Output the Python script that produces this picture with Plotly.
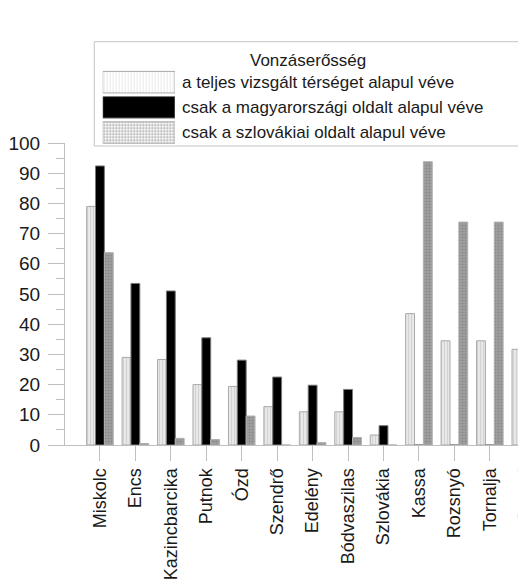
import plotly.graph_objects as go

# Adatok
telepulesek = ["Miskolc", "Encs", "Kazincbarcika", "Putnok", "Ózd", "Szendrő", "Edelény",
               "Bódvaszilas", "Szlovákia", "Kassa", "Rozsnyó", "Tornalja", "Szepsi"]
teljes = [79, 29, 28.3, 20, 19.4, 12.7, 11, 11, 3.3, 43.5, 34.5, 34.5, 31.7]
magyar = [92.4, 53.5, 51, 35.5, 28.1, 22.5, 19.8, 18.4, 6.4, 0, 0, 0, 0]
szlovak = [63.7, 0.5, 2.2, 1.8, 9.6, 0, 0.8, 2.5, 0, 93.8, 73.8, 73.8, None]
sorozat_nevek = ["a teljes vizsgált térséget alapul véve",
                 "csak a magyarországi oldalt alapul véve",
                 "csak a szlovákiai oldalt alapul véve"]
jelmagyarazat_cim = "Vonzáserősség"
y_ertekek = list(range(0, 101, 10))

FONT = "Liberation Sans, Arial, sans-serif"
AXIS = "#bfbfbf"

# kinézet sorozatonként: szín, minta
stilus = [
    dict(color="#e6e6e6", pattern=dict(shape="|", fgcolor="#cfcfcf", bgcolor="#e8e8e8", size=3, solidity=0.3),
         line=dict(color="#a9a9a9", width=1)),
    dict(color="#000000", line=dict(color="#7a7a7a", width=1)),
    dict(color="#9c9c9c", pattern=dict(shape=".", fgcolor="#888888", bgcolor="#a0a0a0", size=3, solidity=0.4),
         line=dict(color="#b0b0b0", width=1)),
]

fig = go.Figure()
for nev, ertek, st in zip(sorozat_nevek, [teljes, magyar, szlovak], stilus):
    fig.add_trace(go.Bar(x=list(range(len(telepulesek))), y=ertek, name=nev, marker=st, showlegend=False))

# jelmagyarázat mintái egy külön, rejtett tengelypáron
fig.add_trace(go.Bar(
    x=[1, 1, 1], y=[0, 1, 2], orientation="h", width=0.855, xaxis="x2", yaxis="y2", showlegend=False,
    hoverinfo="skip",
    marker=dict(
        color=["#e6e6e6", "#000000", "#9c9c9c"],
        pattern=dict(shape=["|", "", "."], fgcolor=["#cfcfcf", "#000000", "#888888"],
                     bgcolor=["#e8e8e8", "#000000", "#a0a0a0"], size=[3, 3, 3], solidity=[0.3, 0.3, 0.4]),
        line=dict(color=["#a9a9a9", "#7a7a7a", "#b0b0b0"], width=1),
    ),
))

# az oldal 8 px-es margója miatt minden 8 px-szel eltolva, a figura pont kitölti az ablakot
OFF = 8
W, H = 526 - OFF, 586 - OFF
L, T, B = 65 - OFF, 40 - OFF, H - (445 - OFF)
plot_w, plot_h = W - L, H - T - B


def px(x):
    return (x - OFF - L) / plot_w


def py(y):
    return (445 - y) / plot_h


x0 = -(100 - 65) / 35.5
x1 = 12.02
pitch = plot_w / (x1 - x0)

fig.update_layout(
    width=W, height=H, template="none",
    margin=dict(l=L, r=0, t=T, b=B),
    paper_bgcolor="white", plot_bgcolor="white",
    barmode="group", bargap=0.25, bargroupgap=0,
    font=dict(family=FONT, size=18, color="#1a1a1a"),
    xaxis=dict(
        tickmode="array", tickvals=list(range(len(telepulesek))), ticktext=telepulesek,
        range=[x0, x1], tickangle=-90, ticks="outside", ticklen=15, tickcolor=AXIS,
        showline=True, linecolor=AXIS, linewidth=1, showgrid=False, zeroline=False,
        automargin=False, tickfont=dict(size=18), ticklabeloverflow="allow",
    ),
    yaxis=dict(
        domain=[0, py(143)], range=[0, 100], tickvals=y_ertekek, ticks="outside", ticklen=16,
        tickcolor=AXIS, showline=True, linecolor=AXIS, linewidth=1, showgrid=False, zeroline=False,
        minor=dict(dtick=5, ticks="outside", ticklen=8, tickcolor=AXIS), automargin=False,
        ticklabelstandoff=4, tickfont=dict(size=19),
    ),
    xaxis2=dict(domain=[px(102.7), px(175)], range=[0, 1], anchor="y2", visible=False, fixedrange=True),
    yaxis2=dict(domain=[py(145.1), py(69.6)], range=[2.5, -0.5], anchor="x2", visible=False, fixedrange=True),
)

# keret a jelmagyarázat körül
fig.add_shape(type="rect", xref="paper", yref="paper", layer="below",
              x0=px(94.3), x1=px(521.7), y0=py(146), y1=py(41.7),
              line=dict(color="#c4c4c4", width=1), fillcolor="white")

fig.add_annotation(text=jelmagyarazat_cim, xref="paper", yref="paper", x=px(307.5), y=py(60.7),
                   showarrow=False, xanchor="center", yanchor="middle", font=dict(size=17))
for nev, yy in zip(sorozat_nevek, [82.2, 107.2, 132.5]):
    fig.add_annotation(text=nev, xref="paper", yref="paper", x=px(180), y=py(yy),
                       showarrow=False, xanchor="left", yanchor="middle", font=dict(size=17))

fig.write_html("out.html")
